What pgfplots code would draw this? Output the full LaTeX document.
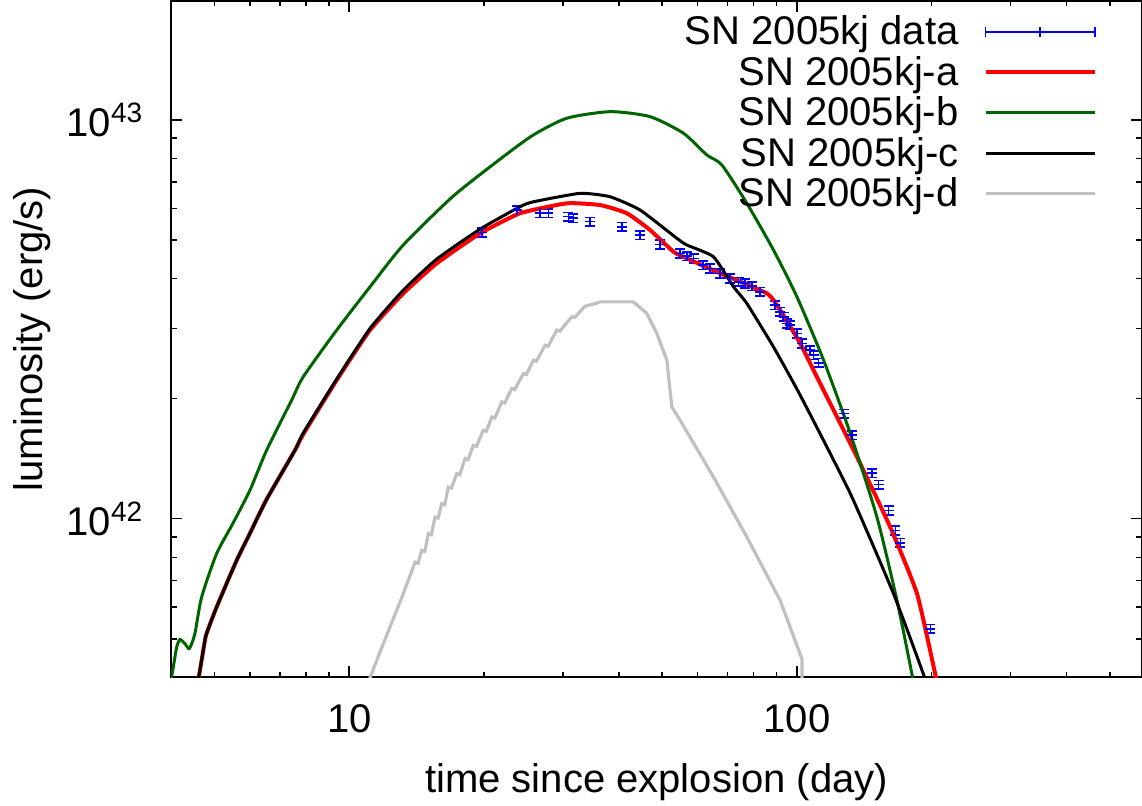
\documentclass[border=0pt]{standalone}
\usepackage{fontspec}
\setmainfont{Liberation Sans}
\usepackage{pgfplots}
\pgfplotsset{compat=1.18}
\definecolor{dkgreen}{HTML}{006400}
\definecolor{ltgrey}{HTML}{C0C0C0}
\begin{document}
\begin{tikzpicture}
\begin{axis}[
  name=ax,
  xmode=log, ymode=log,
  scale only axis, width=242.5pt, height=169pt,
  xmin=4, xmax=590, ymin=4e41, ymax=1.99e43,
  xtick={10,100}, xticklabels={10,100},
  ytick={1e42,1e43}, yticklabels={10\textsuperscript{42},10\textsuperscript{43}},
  minor xtick={5,6,7,8,9,20,30,40,50,60,70,80,90,200,300,400,500},
  minor ytick={5e41,6e41,7e41,8e41,9e41,2e42,3e42,4e42,5e42,6e42,7e42,8e42,9e42},
  major tick length=2.75pt, minor tick length=1.4pt,
  tick align=inside,
  axis line style={line width=0.5pt},
  every tick/.style={black, line width=0.4pt},
  xticklabel style={anchor=base, yshift=-13.7pt},
  yticklabel style={xshift=-3.2pt},
  xlabel={time since explosion (day)},
  ylabel={luminosity (erg/s)},
  xlabel style={at={(axis description cs:0.5,0)}, anchor=base, yshift=-28.7pt},
  ylabel style={at={(axis description cs:-0.1433,0.5)}, anchor=center},
  legend style={draw=none, fill=none, at={(axis description cs:1,1)}, anchor=north east,
    xshift=-11.3pt, yshift=-2.75pt, inner sep=0pt, outer sep=0pt,
    column sep=6.25pt, row sep=0pt,
    nodes={inner sep=0pt, text height=8.25pt, text depth=1.85pt}},
  legend cell align=right,
  legend plot pos=right,
  legend image code/.code={\draw[#1] (0pt,0pt) -- (27.25pt,0pt);},
]
\addplot[blue, line width=0.4pt, only marks, mark=+, mark size=1.25pt,
  legend image code/.code={\draw[blue, line width=0.4pt] (0pt,0pt) -- (27.25pt,0pt)
     (0pt,-1.33pt) -- (0pt,1.33pt) (27.25pt,-1.33pt) -- (27.25pt,1.33pt)
     (13.6pt,-1.25pt) -- (13.6pt,1.25pt);},
  error bars/.cd, y dir=both, y explicit relative,
  error bar style={line width=0.4pt},
  error mark=-,
  error mark options={rotate=90, blue, mark size=1.25pt, line width=0.4pt}]
  table[x=t, y=L, y error=e] {
t L e
19.77 5.221e42 0.025
23.67 5.943e42 0.025
26.68 5.833e42 0.025
27.85 5.833e42 0.025
30.87 5.720e42 0.025
31.67 5.667e42 0.025
34.51 5.557e42 0.025
40.63 5.398e42 0.025
44.65 5.146e42 0.025
49.49 4.876e42 0.025
54.85 4.628e42 0.025
56.78 4.556e42 0.025
58.75 4.496e42 0.025
61.74 4.325e42 0.025
64.00 4.244e42 0.025
67.40 4.123e42 0.025
70.95 4.006e42 0.025
74.05 3.928e42 0.025
76.65 3.892e42 0.025
79.34 3.832e42 0.025
82.79 3.706e42 0.025
89.43 3.432e42 0.025
91.77 3.302e42 0.025
93.33 3.208e42 0.025
94.98 3.088e42 0.025
96.61 3.058e42 0.025
100.0 2.914e42 0.025
102.6 2.750e42 0.025
107.1 2.646e42 0.025
108.9 2.570e42 0.025
111.8 2.461e42 0.025
127.1 1.835e42 0.025
132.7 1.619e42 0.025
147.2 1.302e42 0.025
152.2 1.217e42 0.025
160.2 1.049e42 0.025
165.9 9.346e41 0.025
170.2 8.705e41 0.025
198.6 5.295e41 0.025
};
\addlegendentry{SN 2005kj data}
\addplot[red, line width=1pt, smooth, tension=0.3] coordinates {
(4.579,3.815e41) (4.759,4.948e41) (4.808,5.183e41) (5.053,5.999e41) (5.602,7.86e41)
(5.998,9.185e41) (6.536,1.118e42) (7.560,1.484e42) (7.891,1.628e42) (9.372,2.225e42)
(11.125,2.971e42) (13.20,3.671e42) (15.68,4.368e42) (19.60,5.194e42) (24.07,5.833e42)
(30.61,6.178e42) (36.34,6.117e42) (41.69,5.833e42) (47.00,5.294e42) (53.0,4.671e42)
(56.78,4.496e42) (66.26,4.160e42) (85.71,3.671e42) (91.77,3.334e42) (101.7,2.750e42)
(110.8,2.268e42) (136.2,1.428e42) (161.6,9.526e41) (185.5,6.481e41) (204.0,4.042e41)
(205.8,3.815e41)
};
\addlegendentry{SN 2005kj-a}
\addplot[dkgreen, line width=0.75pt, smooth, tension=0.4] coordinates {
(3.99,3.9e41) (4.044,4.241e41) (4.115,4.76e41) (4.183,4.977e41) (4.293,4.863e41)
(4.393,4.725e41) (4.519,5.145e41) (4.679,6.355e41) (5.053,8.168e41) (5.496,9.732e41)
(5.998,1.178e42) (6.536,1.484e42) (7.434,1.982e42) (7.891,2.268e42) (9.372,2.971e42)
(11.125,3.815e42) (13.20,4.856e42) (17.08,6.445e42) (22.09,8.089e42) (25.78,9.170e42)
(30.61,1.010e43) (38.26,1.049e43) (47.00,1.019e43) (55.79,9.26e42) (62.92,8.168e42)
(67.99,7.709e42) (77.31,6.178e42) (88.65,4.717e42) (100,3.6e42) (114.7,2.497e42)
(131.6,1.635e42) (150.9,1.009e42) (167.3,6.235e41) (181.3,3.996e41) (183,3.7e41)
};
\addlegendentry{SN 2005kj-b}
\addplot[black, line width=0.75pt, smooth, tension=0.3] coordinates {
(4.579,3.815e41) (4.759,4.948e41) (4.808,5.183e41) (5.053,5.999e41) (5.602,7.86e41)
(5.998,9.185e41) (6.536,1.118e42) (7.560,1.484e42) (7.891,1.640e42) (9.372,2.24e42)
(11.125,3.0e42) (13.20,3.742e42) (15.68,4.477e42) (19.60,5.325e42) (24.07,6.06e42)
(25.78,6.234e42) (32.78,6.546e42) (38.26,6.418e42) (44.65,5.943e42) (53.93,5.047e42)
(56.78,4.856e42) (65.11,4.537e42) (72.18,3.815e42) (77.31,3.465e42) (88.65,2.696e42)
(101.7,2.040e42) (131.6,1.156e42) (164.4,6.481e41) (192.9,3.996e41) (194.5,3.77e41)
};
\addlegendentry{SN 2005kj-c}
\addplot[ltgrey, line width=0.8pt] coordinates {
(10.95,3.815e41) (11.91,4.856e41) (13.20,6.481e41) (14.025,7.781e41) (14.244,7.736e41)
(14.518,8.325e41) (14.744,8.277e41) (15.020,9.171e41) (15.254,9.117e41) (15.546,1.0093e42)
(15.788,1.0035e42) (16.092,1.0905e42) (16.342,1.0843e42) (16.648,1.2003e42) (16.907,1.1934e42)
(17.384,1.2970e42) (17.655,1.2895e42) (18.143,1.4147e42) (18.426,1.4065e42) (18.935,1.5277e42)
(19.230,1.5189e42) (19.935,1.6666e42) (20.245,1.6570e42) (20.816,1.7993e42) (21.140,1.7889e42)
(21.915,1.9627e42) (22.257,1.9514e42) (23.068,2.1207e42) (23.428,2.1085e42) (24.487,2.3120e42)
(24.868,2.2987e42) (25.776,2.4969e42) (26.178,2.4825e42) (27.379,2.7227e42) (27.805,2.7070e42)
(29.08,2.971e42) (29.533,2.9537e42) (31.41,3.2081e42) (31.90,3.199e42) (33.63,3.412e42)
(35.41,3.462e42) (36.34,3.497e42) (43.13,3.497e42) (46.22,3.271e42) (48.66,2.914e42)
(51.22,2.497e42) (52.55,1.906e42) (54.85,1.765e42) (65.11,1.272e42) (77.31,8.993e41)
(91.77,6.235e41) (102.6,4.451e41) (102.6,3.7e41)
};
\addlegendentry{SN 2005kj-d}
\end{axis}
\pgfresetboundingbox
\useasboundingbox ([xshift=-42.75pt,yshift=-32pt]ax.south west) rectangle ([yshift=0.25pt]ax.north east);
\end{tikzpicture}
\end{document}
